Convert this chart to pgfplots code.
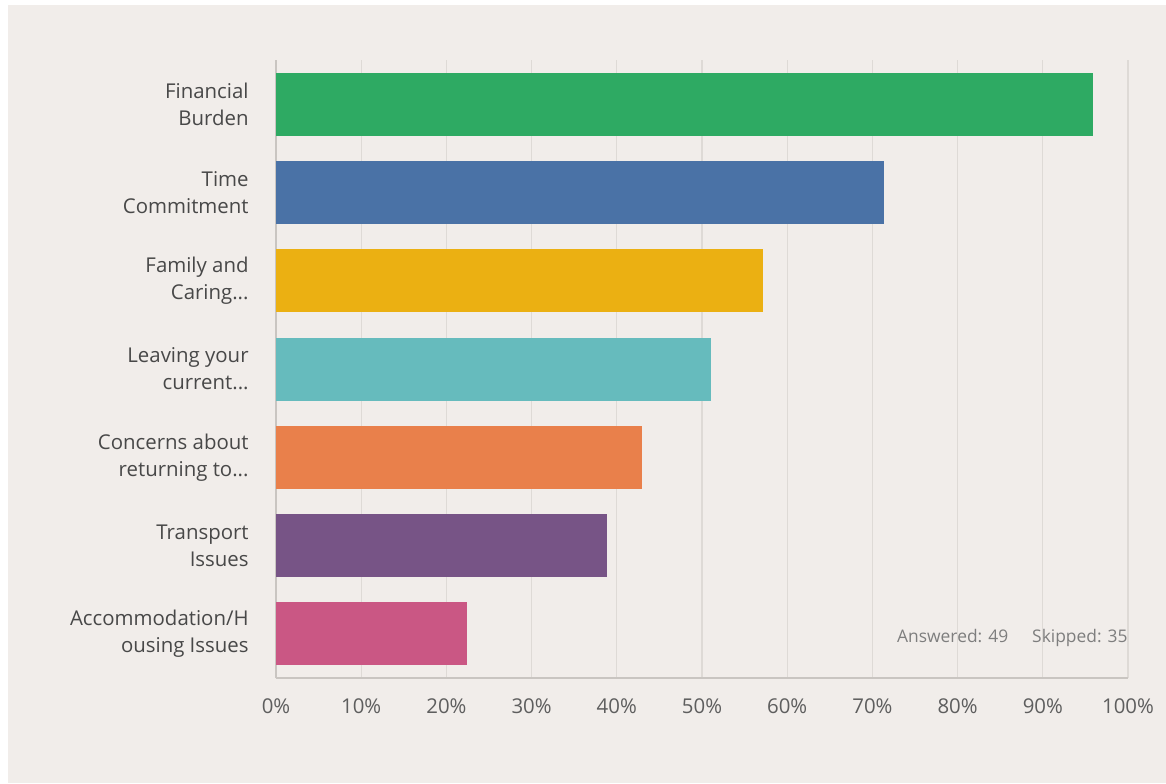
\documentclass[border=0pt]{standalone}
\usepackage{pgfplots}
\pgfplotsset{compat=1.18}
\usepackage{fontspec}
\setmainfont{Open Sans}
\definecolor{bg}{HTML}{F1EDEA}
\definecolor{gridc}{HTML}{DEDAD6}
\definecolor{axc}{HTML}{C9C5C1}
\definecolor{labc}{HTML}{484848}
\definecolor{tickc}{HTML}{5E5E5E}
\definecolor{c1}{HTML}{2EAA63}
\definecolor{c2}{HTML}{4A72A6}
\definecolor{c3}{HTML}{EBB012}
\definecolor{c4}{HTML}{66BBBD}
\definecolor{c5}{HTML}{E9804B}
\definecolor{c6}{HTML}{775486}
\definecolor{c7}{HTML}{CA5784}
\newcommand{\dd}{.\kern0pt.\kern0pt.}
\begin{document}
\begin{tikzpicture}
\fill[white] (0,0) rectangle (583pt,391.5pt);
\fill[bg] (4pt,0pt) rectangle (583pt,389pt);
\begin{axis}[
  at={(138pt,52.5pt)}, anchor=south west,
  scale only axis, width=426pt, height=309pt,
  xbar, bar width=31.5pt, bar shift=0pt,
  xmin=0, xmax=100, ymin=-0.5, ymax=6.5,
  axis lines=left, axis line style={-, color=axc, line width=0.8pt},
  xmajorgrids, grid style={gridc, line width=0.6pt},
  xtick={0,10,...,100},
  xticklabel={\pgfmathprintnumber{\tick}\%},
  xticklabel style={font=\fontsize{10.2}{12}\selectfont, text=tickc, yshift=-7pt},
  ytick={0,1,2,3,4,5,6},
  yticklabels={{Accommodation/H\\ousing Issues},{Transport\\Issues},{Concerns about\\returning to\dd},{Leaving your\\current\dd},{Family and\\Caring\dd},{Time\\Commitment},{Financial\\Burden}},
  yticklabel style={align=right, font=\fontsize{10.2}{13.5}\selectfont, text=labc, inner sep=0pt, xshift=-13.5pt},
  major tick length=0pt,
  /pgf/number format/assume math mode=true,
  clip=false,
]
\addplot[fill=c1, draw=none] coordinates {(95.9,6)};
\addplot[fill=c2, draw=none] coordinates {(71.4,5)};
\addplot[fill=c3, draw=none] coordinates {(57.1,4)};
\addplot[fill=c4, draw=none] coordinates {(51.0,3)};
\addplot[fill=c5, draw=none] coordinates {(42.9,2)};
\addplot[fill=c6, draw=none] coordinates {(38.8,1)};
\addplot[fill=c7, draw=none] coordinates {(22.4,0)};
\node[anchor=east, font=\fontsize{8.7}{10}\selectfont, text=tickc!80, inner sep=0pt] at (rel axis cs:1,0.065) {Answered: 49\hspace{12pt}Skipped: 35};
\end{axis}
\end{tikzpicture}
\end{document}
